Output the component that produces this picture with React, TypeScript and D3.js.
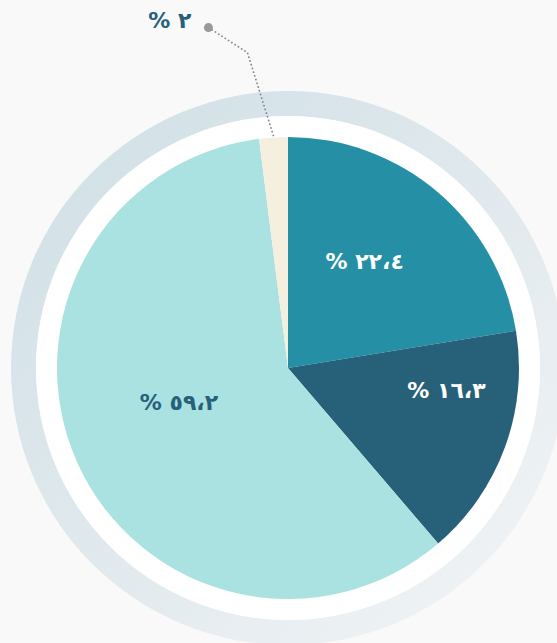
import React from 'react';
import * as d3 from 'd3';

// slice order clockwise from 12 o'clock
const values = [22.4, 16.3, 59.2, 2];
const labels = ['% ٢٢،٤', '% ١٦،٣', '% ٥٩،٢', '% ٢'];
const colors = ['#2590a5', '#276079', '#a9e2e1', '#f5efdf'];
const labelColors = ['#ffffff', '#ffffff', '#276079', '#276079'];

const W = 557;
const H = 643;
const cx = 288;
const cy = 368;
const r = 231;

// small nudges off the centroid so text sits where the original put it
const nudge: [number, number][] = [
  [-14, 0],
  [27, -26],
  [19, -22],
  [0, 0],
];

const polar = (a: number, rad: number): [number, number] => [
  Math.sin(a) * rad,
  -Math.cos(a) * rad,
];

export default function App() {
  const pie = d3.pie<number>().sort(null).value((d) => d);
  const arcs = pie(values);
  const arc = d3.arc<d3.PieArcDatum<number>>().innerRadius(0).outerRadius(r);
  const labelArc = d3
    .arc<d3.PieArcDatum<number>>()
    .innerRadius(140)
    .outerRadius(140);
  const ring = d3
    .arc()
    .innerRadius(252)
    .outerRadius(277)
    .startAngle(0)
    .endAngle(2 * Math.PI);

  // leader for the small slice
  const small = arcs[3];
  const mid = (small.startAngle + small.endAngle) / 2;
  const p0 = polar(mid, r + 2);
  const p1 = polar(mid - 0.065, 318);
  const p2: [number, number] = [p1[0] - 39, p1[1] - 25];

  return (
    <div style={{ position: 'fixed', left: 0, top: 0, width: W, height: H, background: '#f9f9f9' }}>
      <svg width={W} height={H} style={{ display: 'block' }}>
        <defs>
          <linearGradient id="ringGrad" x1="0.05" y1="0.1" x2="0.9" y2="1">
            <stop offset="0%" stopColor="#d1e1e6" />
            <stop offset="45%" stopColor="#dfe8ed" />
            <stop offset="100%" stopColor="#f1f4f6" />
          </linearGradient>
        </defs>
        <rect width={W} height={H} fill="#f9f9f9" />
        <g transform={`translate(${cx},${cy})`}>
          <path d={ring({} as any) as string} fill="url(#ringGrad)" />
          <circle r={252} fill="#ffffff" />
          {arcs.map((a, i) => (
            <path key={i} d={arc(a) as string} fill={colors[i]} />
          ))}
          {arcs.slice(0, 3).map((a, i) => {
            const [x, y] = labelArc.centroid(a);
            return (
              <text
                key={i}
                x={x + nudge[i][0]}
                y={y + nudge[i][1]}
                textAnchor="middle"
                dominantBaseline="central"
                fill={labelColors[i]}
                fontFamily="'DejaVu Sans', sans-serif"
                fontWeight="bold"
                fontSize={22}
              >
                {labels[i]}
              </text>
            );
          })}
          <polyline
            points={[p0, p1, p2].map((p) => p.join(',')).join(' ')}
            fill="none"
            stroke="#888888"
            strokeWidth={1.8}
            strokeDasharray="0.1 3.8"
            strokeLinecap="round"
          />
          <circle cx={p2[0]} cy={p2[1]} r={4.5} fill="#999999" />
          <text
            x={p2[0] - 17}
            y={p2[1] - 7}
            textAnchor="end"
            dominantBaseline="central"
            fill={labelColors[3]}
            fontFamily="'DejaVu Sans', sans-serif"
            fontWeight="bold"
            fontSize={22}
          >
            {labels[3]}
          </text>
        </g>
      </svg>
    </div>
  );
}
